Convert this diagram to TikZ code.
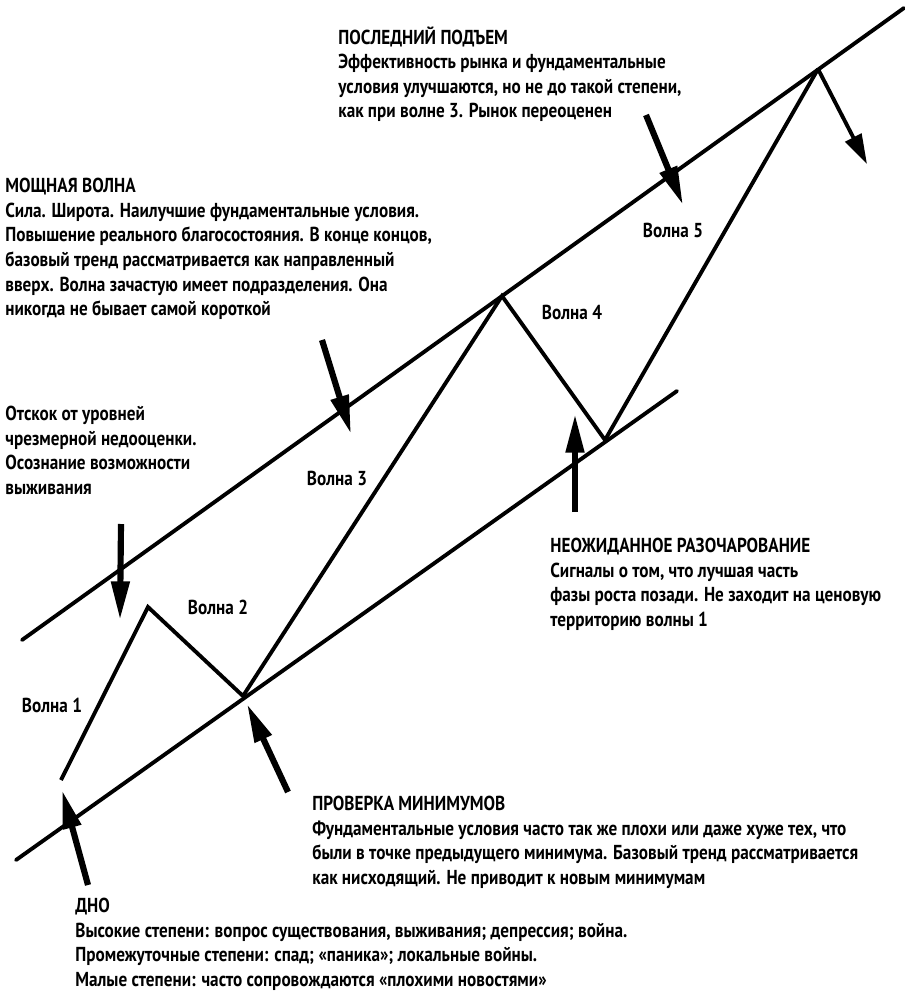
\documentclass[tikz,border=0pt]{standalone}
\usepackage{fontspec}
\setmainfont[FakeStretch=0.85]{PT Sans}
\usetikzlibrary{arrows.meta}
\tikzset{
    font=\fontsize{11.5}{14}\selectfont\bfseries,
    >=Stealth,
    % Lines
    chan/.style={line width=2.2pt, line cap=round},
    wave/.style={line width=2.2pt, line join=miter},
    % Arrows
    bigarrow/.style={line width=3.5pt, -{Triangle[length=22pt, width=10pt]}},
    smallarrow/.style={line width=2.2pt, -{Triangle[length=17pt, width=10pt]}},
    % Labels
    txt/.style={anchor=north west, inner sep=0pt, align=left},
    lbl/.style={inner sep=1pt}
}

\begin{document}
\begin{tikzpicture}[x=0.02cm, y=-0.02cm]
\useasboundingbox (0,0) rectangle (904,1001);

% channel
\coordinate (hiA) at (22,640);
\coordinate (hiB) at (904,8);
\coordinate (loA) at (16,860);
\coordinate (loB) at (677,391);
\draw[chan] (hiA) -- (hiB);
\draw[chan] (loA) -- (loB);

% waves
\coordinate (w0) at (61,780);
\coordinate (w1) at (148,607);
\coordinate (w2) at (243,696);
\coordinate (w3) at (502,296);
\coordinate (w4) at (605,440);
\coordinate (w5) at (818,69);
\draw[wave] (w0) -- (w1) -- (w2) -- (w3) -- (w4) -- (w5);

\node[lbl] (wave1) at (52,705) {Волна 1};
\node[lbl] (wave2) at (218,607) {Волна 2};
\node[lbl] (wave3) at (337,478) {Волна 3};
\node[lbl] (wave4) at (572,312) {Волна 4};
\node[lbl] (wave5) at (673,230) {Волна 5};

% arrows
\coordinate (dnoT) at (88,885);      \coordinate (dnoH) at (62,790);
\coordinate (provT) at (288,792);    \coordinate (provH) at (247,704);
\coordinate (otskT) at (121,524);    \coordinate (otskH) at (120,620);
\coordinate (moshT) at (322,340);    \coordinate (moshH) at (351,434);
\coordinate (neozT) at (575,512);    \coordinate (neozH) at (575,414);
\coordinate (poslT) at (646,115);    \coordinate (poslH) at (683,205);
\coordinate (peakH) at (867,164);
\draw[bigarrow] (dnoT) -- (dnoH);
\draw[bigarrow] (provT) -- (provH);
\draw[bigarrow] (otskT) -- (otskH);
\draw[bigarrow] (moshT) -- (moshH);
\draw[bigarrow] (neozT) -- (neozH);
\draw[bigarrow] (poslT) -- (poslH);
\draw[smallarrow] (w5) -- (peakH);

% texts
\node[txt] (posl) at (338,26) {ПОСЛЕДНИЙ ПОДЪЕМ\\
Эффективность рынка и фундаментальные\\
условия улучшаются, но не до такой степени,\\
как при волне 3. Рынок переоценен};

\node[txt] (mosh) at (5,178) {МОЩНАЯ ВОЛНА\\
Сила. Широта. Наилучшие фундаментальные условия.\\
Повышение реального благосостояния. В конце концов,\\
базовый тренд рассматривается как направленный\\
вверх. Волна зачастую имеет подразделения. Она\\
никогда не бывает самой короткой};

\node[txt] (otsk) at (5,406) {Отскок от уровней\\
чрезмерной недооценки.\\
Осознание возможности\\
выживания};

\node[txt] (neoz) at (550,538) {НЕОЖИДАННОЕ РАЗОЧАРОВАНИЕ\\
Сигналы о том, что лучшая часть\\
фазы роста позади. Не заходит на ценовую\\
территорию волны 1};

\node[txt] (prov) at (312,796) {ПРОВЕРКА МИНИМУМОВ\\
Фундаментальные условия часто так же плохи или даже хуже тех, что\\
были в точке предыдущего минимума. Базовый тренд рассматривается\\
как нисходящий. Не приводит к новым минимумам};

\node[txt] (dno) at (75,898) {ДНО\\
Высокие степени: вопрос существования, выживания; депрессия; война.\\
Промежуточные степени: спад; «паника»; локальные войны.\\
Малые степени: часто сопровождаются «плохими новостями»};

\end{tikzpicture}
\end{document}
